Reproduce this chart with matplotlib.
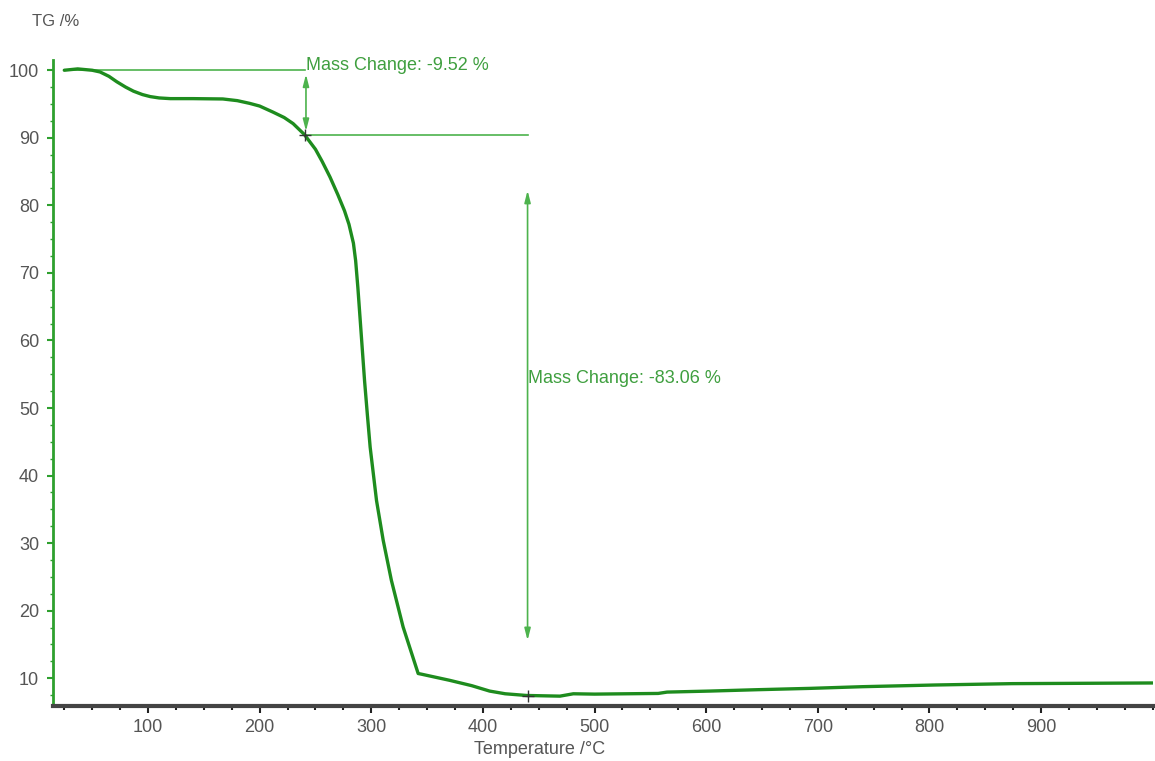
import matplotlib
matplotlib.use("Agg")
import matplotlib.pyplot as plt
from matplotlib.ticker import MultipleLocator

# TG curve
temperatura = [25, 37, 50, 57, 65, 72, 80, 87, 95, 102, 110, 120, 140, 167, 180, 191,
               200, 212, 222, 230, 240, 250, 256, 263, 270, 276, 280, 284, 286, 288,
               290, 292, 294, 296.5, 299, 304.7, 310.7, 318, 328.5, 342, 345, 370, 390,
               406, 420, 439, 469, 481, 500, 557, 565, 603, 645, 693, 740, 805, 874, 1000]
tg = [100.0, 100.2, 100.0, 99.75, 99.1, 98.3, 97.5, 96.9, 96.4, 96.1, 95.9, 95.8, 95.8,
      95.75, 95.5, 95.1, 94.7, 93.8, 93.0, 92.1, 90.5, 88.3, 86.5, 84.2, 81.6, 79.2,
      77.2, 74.4, 71.8, 67.8, 63.2, 58.6, 54.0, 49.0, 44.2, 36.3, 30.4, 24.5, 17.6,
      10.7, 10.6, 9.7, 8.9, 8.1, 7.7, 7.45, 7.35, 7.7, 7.65, 7.75, 7.95, 8.1, 8.3, 8.5,
      8.75, 9.0, 9.2, 9.3]

# mass change steps
t_inicio = 25
t_passo1 = 240.5
t_passo2 = 440
m_inicio = 100.0
perda1 = -9.52
perda2 = -83.06

x_ticks = [100, 200, 300, 400, 500, 600, 700, 800, 900]
y_ticks = [10, 20, 30, 40, 50, 60, 70, 80, 90, 100]

VERDE = "#1e8c1e"
VERDE_CLARO = "#4db34d"
CINZA = "#555555"


def gerar_grafico():
    plt.rcParams["font.family"] = ["Liberation Sans", "DejaVu Sans"]
    fig = plt.figure(figsize=(11.55, 7.61), dpi=100)
    ax = fig.add_axes([0.046, 0.072, 0.952, 0.849])

    ax.plot(temperatura, tg, color=VERDE, lw=2.4, solid_capstyle="round",
            solid_joinstyle="round", zorder=3)

    m1 = m_inicio + perda1
    m2 = m1 + perda2

    # first step annotation
    ax.plot([t_inicio, t_passo1], [m_inicio, m_inicio], color=VERDE_CLARO, lw=1.2)
    ax.plot([t_passo1, t_passo2], [m1, m1], color=VERDE_CLARO, lw=1.2)
    seta = dict(arrowstyle="<|-|>,head_length=0.7,head_width=0.18", color=VERDE_CLARO,
                lw=1.2, shrinkA=0, shrinkB=0)
    ax.annotate("", xy=(t_passo1 + 1, m_inicio - 0.6), xytext=(t_passo1 + 1, m1 + 0.5),
                arrowprops=seta)
    ax.text(t_passo1 + 1, m_inicio + 0.7, f"Mass Change: {perda1:.2f} %", color="#3f9f3f",
            fontsize=13, ha="left", va="center")

    # second step annotation
    ax.annotate("", xy=(t_passo2, 82.2), xytext=(t_passo2, 15.6), arrowprops=seta)
    ax.text(t_passo2, 54.4, f"Mass Change: {perda2:.2f} %", color="#3f9f3f",
            fontsize=13, ha="left", va="center")

    ax.plot([t_passo1, t_passo2], [m1, m2], ls="none", marker="+", color="#333333",
            ms=9, mew=1.0, zorder=4)

    ax.set_xlim(15, 1000)
    ax.set_ylim(5.86, 101.5)
    ax.set_xticks(x_ticks)
    ax.set_yticks(y_ticks)
    ax.xaxis.set_minor_locator(MultipleLocator(25))
    ax.yaxis.set_minor_locator(MultipleLocator(2.5))

    for lado in ["top", "right"]:
        ax.spines[lado].set_visible(False)
    ax.spines["left"].set_color("#2ea02e")
    ax.spines["left"].set_linewidth(2)
    ax.spines["bottom"].set_color("#444444")
    ax.spines["bottom"].set_linewidth(3)

    ax.tick_params(axis="x", which="major", length=5, width=1.5, color="#222222",
                   labelsize=13, labelcolor=CINZA, pad=4)
    ax.tick_params(axis="x", which="minor", length=3, width=1.5, color="#222222")
    ax.tick_params(axis="y", which="major", length=4, width=1.5, color="#2ea02e",
                   labelsize=13, labelcolor=CINZA, pad=6)
    ax.tick_params(axis="y", which="minor", length=2, width=1, color="#2ea02e")

    fig.text(0.028, 0.972, "TG /%", fontsize=12, color=CINZA, ha="left", va="center")
    fig.text(540 / 1155, 1 - 749 / 761, "Temperature /°C", fontsize=13, color=CINZA,
             ha="center", va="center")

    fig.savefig("out.png", dpi=100)


def main():
    gerar_grafico()


if __name__ == "__main__":
    main()
